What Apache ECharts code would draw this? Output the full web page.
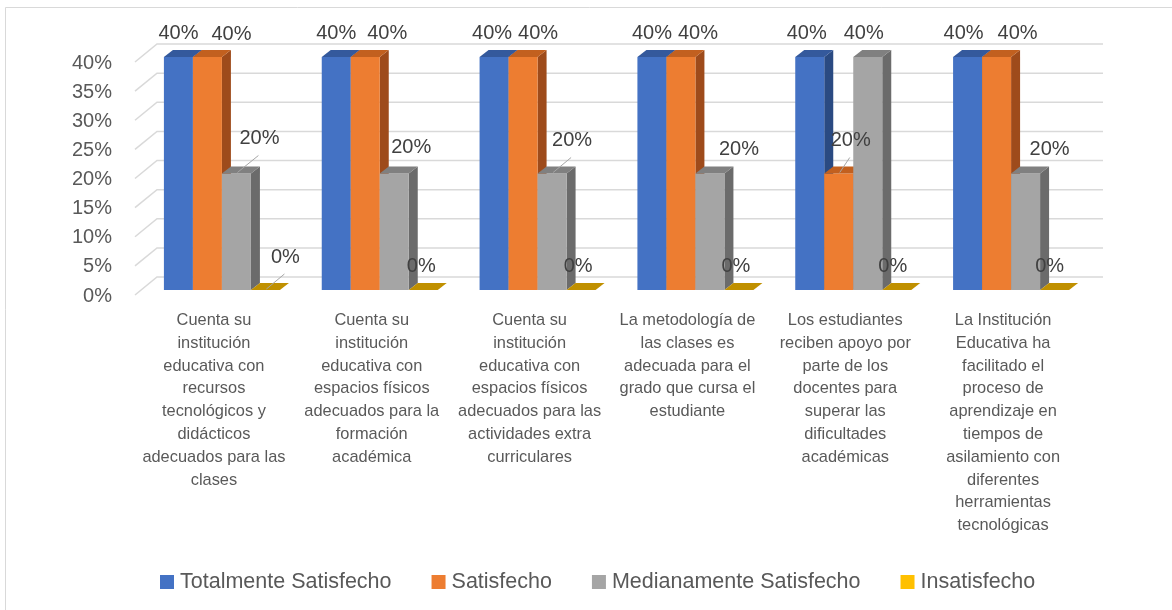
<!DOCTYPE html>
<html>
<head>
<meta charset="utf-8">
<script src="https://cdn.jsdelivr.net/npm/echarts@6/dist/echarts.min.js"></script>
<style>
  html, body { margin: 0; padding: 0; background: #ffffff; }
  #chart { width: 1172px; height: 610px; }
</style>
</head>
<body>
<div id="chart"></div>
<script>
// Survey categories (wrapped as they appear under each group)
const categories = [
  'Cuenta su\ninstitución\neducativa con\nrecursos\ntecnológicos y\ndidácticos\nadecuados para las\nclases',
  'Cuenta su\ninstitución\neducativa con\nespacios físicos\nadecuados para la\nformación\nacadémica',
  'Cuenta su\ninstitución\neducativa con\nespacios físicos\nadecuados para las\nactividades extra\ncurriculares',
  'La metodología de\nlas clases es\nadecuada para el\ngrado que cursa el\nestudiante',
  'Los estudiantes\nreciben apoyo por\nparte de los\ndocentes para\nsuperar las\ndificultades\nacadémicas',
  'La Institución\nEducativa ha\nfacilitado el\nproceso de\naprendizaje en\ntiempos de\nasilamiento con\ndiferentes\nherramientas\ntecnológicas'
];

const seriesNames = ['Totalmente Satisfecho', 'Satisfecho', 'Medianamente Satisfecho', 'Insatisfecho'];

const totalmenteSatisfecho   = [0.40, 0.40, 0.40, 0.40, 0.40, 0.40];
const satisfecho             = [0.40, 0.40, 0.40, 0.40, 0.20, 0.40];
const medianamenteSatisfecho = [0.20, 0.20, 0.20, 0.20, 0.40, 0.20];
const insatisfecho           = [0.00, 0.00, 0.00, 0.00, 0.00, 0.00];

const yTicks = [0, 0.05, 0.10, 0.15, 0.20, 0.25, 0.30, 0.35, 0.40];

// ---- styling ----
const FONT = "'Liberation Sans', Arial, sans-serif";
const faceColors = [
  { front: '#4472C4', top: '#34599C', side: '#2A4A82' },
  { front: '#ED7D31', top: '#C2601F', side: '#9E4B1B' },
  { front: '#A5A5A5', top: '#808080', side: '#6B6B6B' },
  { front: '#FFC000', top: '#C09000', side: '#9C7500' }
];
const DEPTH_X = 9, DEPTH_Y = -7;     // oblique depth of each column
const GROUP_RATIO = 0.735;           // share of a category band used by the 4 columns

// label nudges for crowded value labels: [dx, dy, withLeaderLine]
const labelNudge = {
  '1-0': [24, 1], '2-0': [23, -11, true], '3-0': [20, -9, true],
  '1-1': [22, 0], '2-1': [17, -2], '3-1': [-2, 0],
  '0-2': [-2, 0], '1-2': [15, 0], '2-2': [20, -9, true], '3-2': [-3, 0],
  '1-3': [17, 0], '2-3': [29, 0], '3-3': [-3, 0],
  '0-4': [-3, 0], '1-4': [12, -9, true], '2-4': [-4, 0], '3-4': [-4, 0],
  '0-5': [-4, 0], '1-5': [21, 0], '2-5': [24, 0], '3-5': [-5, 0]
};

function pct(v) { return Math.round(v * 100) + '%'; }

function makeColumnRenderer(k) {
  const c = faceColors[k];
  return function (params, api) {
    const cat = api.value(0);
    const val = api.value(1);
    const base = api.coord([cat, 0]);
    const topPt = api.coord([cat, val]);
    const band = api.size([1, 0])[0];
    const bw = band * GROUP_RATIO / 4;
    const x0 = base[0] - band * GROUP_RATIO / 2 + k * bw;
    const x1 = x0 + bw;
    const ty = topPt[1];
    const by = base[1];
    const children = [];
    if (by - ty > 0.5) {
      children.push({
        type: 'polygon',
        shape: { points: [[x1, ty], [x1, by], [x1 + DEPTH_X, by + DEPTH_Y], [x1 + DEPTH_X, ty + DEPTH_Y]] },
        style: { fill: c.side }
      });
      children.push({
        type: 'rect',
        shape: { x: x0, y: ty, width: bw, height: by - ty },
        style: { fill: c.front }
      });
    }
    children.push({
      type: 'polygon',
      shape: { points: [[x0, ty], [x1, ty], [x1 + DEPTH_X, ty + DEPTH_Y], [x0 + DEPTH_X, ty + DEPTH_Y]] },
      style: { fill: c.top }
    });

    const cx = (x0 + x1) / 2;
    const nudge = labelNudge[k + '-' + cat] || [0, 0];
    const lx = cx + nudge[0];
    const ly = ty - 24 + nudge[1];
    if (nudge[2]) {
      children.push({
        type: 'line',
        z2: 100,
        shape: { x1: cx + 1, y1: ty - 1, x2: lx - 1, y2: ly + 17 },
        style: { stroke: '#A6A6A6', lineWidth: 1 }
      });
    }
    children.push({
      type: 'text',
      z2: 100,
      style: {
        text: pct(val), x: lx, y: ly,
        align: 'center', verticalAlign: 'middle',
        fill: '#404040', fontSize: 20, fontFamily: FONT
      }
    });
    return { type: 'group', children: children };
  };
}

// back-wall gridlines with the short receding segment at the left
function renderGridLine(params, api) {
  const cs = params.coordSys;
  const y = api.coord([0, api.value(1)])[1];
  const gl = cs.x, gr = cs.x + cs.width;
  return {
    type: 'polyline',
    shape: { points: [[gl - 8, y + 5], [gl + 14, y - 13], [gr + 13, y - 13]] },
    style: { stroke: '#D9D9D9', lineWidth: 1.5, fill: null }
  };
}

const seriesValues = [totalmenteSatisfecho, satisfecho, medianamenteSatisfecho, insatisfecho];

const series = [{
  type: 'custom',
  name: 'grid',
  silent: true,
  z: 1,
  renderItem: renderGridLine,
  encode: { x: 0, y: 1 },
  data: yTicks.map(v => [0, v])
}];
seriesValues.forEach((vals, k) => {
  series.push({
    type: 'custom',
    name: seriesNames[k],
    z: 2,
    itemStyle: { color: faceColors[k].front },
    renderItem: makeColumnRenderer(k),
    encode: { x: 0, y: 1 },
    data: vals.map((v, i) => [i, v])
  });
});

const chart = echarts.init(document.getElementById('chart'), null, { renderer: 'canvas' });
chart.setOption({
  animation: false,
  backgroundColor: '#ffffff',
  graphic: [{
    type: 'rect',
    silent: true,
    shape: { x: 5.5, y: 7.5, width: 1200, height: 700 },
    style: { fill: null, stroke: '#D9D9D9', lineWidth: 1 }
  }],
  grid: { left: 143, right: 82, top: 57, bottom: 320, containLabel: false },
  xAxis: {
    type: 'category',
    data: categories,
    axisLine: { show: false },
    axisTick: { show: false },
    splitLine: { show: false },
    axisLabel: {
      interval: 0,
      margin: 19,
      color: '#595959',
      fontSize: 16.4,
      lineHeight: 22.8,
      fontFamily: FONT,
      align: 'center',
      padding: [0, 16, 0, 0]
    }
  },
  yAxis: {
    type: 'value',
    min: 0,
    max: 0.4,
    interval: 0.05,
    axisLine: { show: false },
    axisTick: { show: false },
    splitLine: { show: false },
    axisLabel: {
      margin: 31,
      color: '#595959',
      fontSize: 20,
      fontFamily: FONT,
      verticalAlign: 'top',
      lineHeight: 12,
      formatter: v => pct(v)
    }
  },
  legend: {
    data: seriesNames,
    left: 155,
    top: 566,
    itemWidth: 14,
    itemHeight: 14,
    itemGap: 40,
    icon: 'rect',
    textStyle: { color: '#595959', fontSize: 21.5, fontFamily: FONT, padding: [0, 0, 0, 1] }
  },
  series: series
});
</script>
</body>
</html>
